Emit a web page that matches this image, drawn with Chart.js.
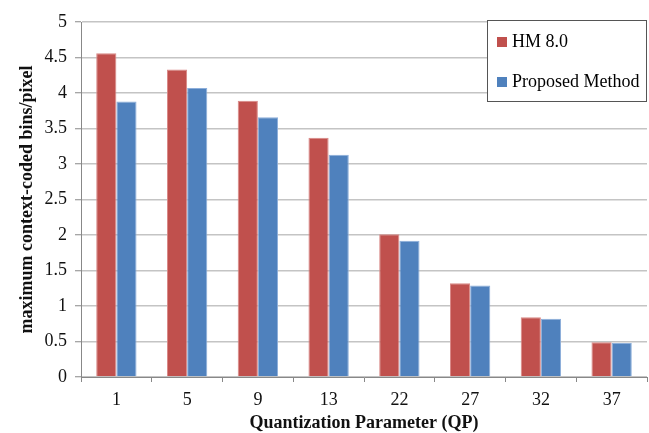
<!DOCTYPE html>
<html>
<head>
<meta charset="utf-8">
<script src="https://cdn.jsdelivr.net/npm/chart.js@4/dist/chart.umd.min.js"></script>
<style>
  body { margin: 0; background: #fff; }
</style>
</head>
<body>
<canvas id="qpChart" width="649" height="433"></canvas>
<script>
const qpLabels = ['1', '5', '9', '13', '22', '27', '32', '37'];
const hmValues = [4.56, 4.33, 3.89, 3.37, 2.01, 1.32, 0.84, 0.49];
const proposedValues = [3.88, 4.07, 3.66, 3.13, 1.92, 1.29, 0.82, 0.48];

const serif = "'Liberation Serif', 'Times New Roman', serif";
Chart.defaults.font.family = serif;
Chart.defaults.font.size = 18;
Chart.defaults.color = '#111';

// legend drawn as a framed box inside the plot, like the Excel original
const boxLegend = {
    id: 'boxLegend',
    afterDraw(chart) {
        const ctx = chart.ctx;
        const area = chart.chartArea;
        const w = 159, h = 81;
        const x = area.right - w - 1;
        const y = area.top - 2;
        ctx.save();
        ctx.fillStyle = '#fff';
        ctx.fillRect(x, y, w, h);
        ctx.strokeStyle = '#555';
        ctx.lineWidth = 1;
        ctx.strokeRect(x + 0.5, y + 0.5, w, h);
        ctx.font = '18px ' + serif;
        ctx.textBaseline = 'middle';
        chart.data.datasets.forEach((ds, i) => {
            const cy = y + 22 + i * 40;
            ctx.fillStyle = ds.backgroundColor;
            ctx.fillRect(x + 10, cy - 5, 10, 10);
            ctx.fillStyle = '#000';
            ctx.fillText(ds.label, x + 25, cy);
        });
        ctx.restore();
    }
};

const ctx = document.getElementById('qpChart').getContext('2d');
new Chart(ctx, {
    type: 'bar',
    data: {
        labels: qpLabels,
        datasets: [{
            label: 'HM 8.0',
            data: hmValues,
            backgroundColor: '#C0504D',
            borderColor: '#D98886',
            borderWidth: 1,
        }, {
            label: 'Proposed Method',
            data: proposedValues,
            backgroundColor: '#4F81BD',
            borderColor: '#8CAEDA',
            borderWidth: 1,
        }]
    },
    options: {
        responsive: false,
        animation: false,
        layout: {
            padding: { top: 22, right: 2, left: 0, bottom: 0 }
        },
        datasets: {
            bar: {
                categoryPercentage: 0.57,
                barPercentage: 1.0
            }
        },
        scales: {
            x: {
                afterFit(scale) { scale.height = 56; },
                grid: {
                    display: true,
                    drawOnChartArea: false,
                    drawTicks: true,
                    tickLength: 5,
                    offset: true,
                    color: '#888'
                },
                border: { color: '#888', width: 1 },
                ticks: { padding: 7, color: '#111', font: { family: serif, size: 18 } },
                title: {
                    display: true,
                    text: 'Quantization Parameter (QP)',
                    font: { family: serif, size: 18, weight: 'bold' },
                    color: '#111',
                    padding: { top: 0, bottom: -1 }
                }
            },
            y: {
                min: 0,
                max: 5,
                afterFit(scale) { scale.width = 81; },
                ticks: {
                    stepSize: 0.5,
                    padding: 8,
                    color: '#111',
                    font: { family: serif, size: 18 },
                    callback: v => String(Math.round(v * 10) / 10)
                },
                grid: {
                    color: '#c4c4c4',
                    lineWidth: 1.5,
                    tickLength: 6,
                    tickColor: '#888',
                    tickWidth: 1
                },
                border: { color: '#888', width: 1 },
                title: {
                    display: true,
                    text: 'maximum context-coded bins/pixel',
                    font: { family: serif, size: 18, weight: 'bold' },
                    color: '#111',
                    padding: { top: 17, bottom: 0 }
                }
            }
        },
        plugins: {
            legend: { display: false },
            tooltip: { enabled: false }
        }
    },
    plugins: [boxLegend]
});
</script>
</body>
</html>
